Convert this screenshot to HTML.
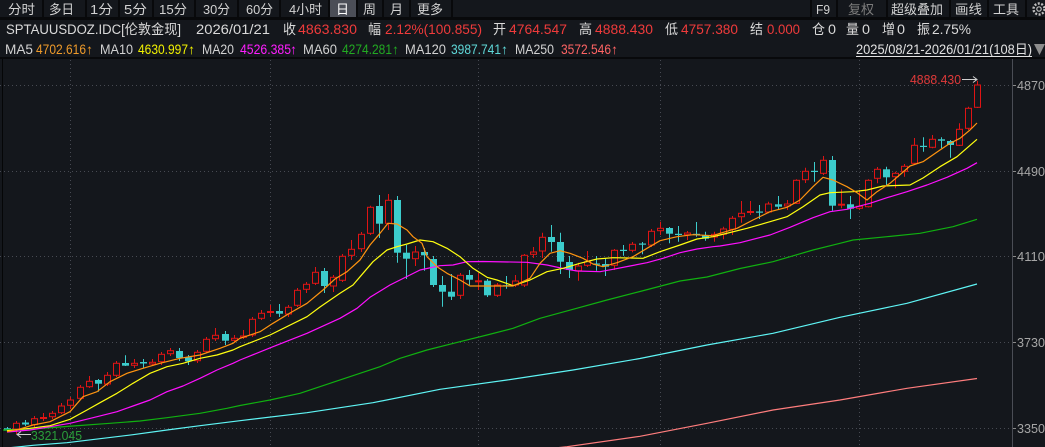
<!DOCTYPE html>
<html><head><meta charset="utf-8"><style>
html,body{margin:0;padding:0;background:#14171c;overflow:hidden;}
svg{display:block;}
text{font-family:"Liberation Sans","Noto Sans CJK SC",sans-serif;}
</style></head><body>
<svg width="1045" height="447" viewBox="0 0 1045 447" xmlns="http://www.w3.org/2000/svg">
<rect x="0" y="0" width="1045" height="447" fill="#14171c"/>
<!-- toolbar -->
<rect x="330" y="0" width="26" height="17" fill="#4b4e57"/>
<rect x="0" y="17" width="1045" height="3" fill="#08090b"/>
<g fill="#08090b">
<rect x="42" y="0" width="2" height="18"/><rect x="85" y="0" width="2" height="18"/><rect x="118" y="0" width="2" height="18"/>
<rect x="152" y="0" width="2" height="18"/><rect x="194" y="0" width="2" height="18"/><rect x="237" y="0" width="2" height="18"/>
<rect x="279" y="0" width="2" height="18"/><rect x="328" y="0" width="2" height="18"/><rect x="356" y="0" width="2" height="18"/>
<rect x="382" y="0" width="2" height="18"/><rect x="409" y="0" width="2" height="18"/><rect x="451" y="0" width="2" height="18"/>
<rect x="810" y="0" width="2" height="18"/><rect x="836" y="0" width="2" height="18"/><rect x="886" y="0" width="2" height="18"/>
<rect x="949" y="0" width="2" height="18"/><rect x="987" y="0" width="2" height="18"/><rect x="1025" y="0" width="2" height="18"/>
</g>
<g font-size="13" fill="#d2d2d2" lengthAdjust="spacingAndGlyphs">
<text x="8" y="14" textLength="27" lengthAdjust="spacingAndGlyphs">分时</text>
<text x="49" y="14" textLength="25" lengthAdjust="spacingAndGlyphs">多日</text>
<text x="90" y="14" textLength="23" lengthAdjust="spacingAndGlyphs">1分</text>
<text x="124" y="14" textLength="23" lengthAdjust="spacingAndGlyphs">5分</text>
<text x="159" y="14" textLength="28" lengthAdjust="spacingAndGlyphs">15分</text>
<text x="203" y="14" textLength="27" lengthAdjust="spacingAndGlyphs">30分</text>
<text x="246" y="14" textLength="27" lengthAdjust="spacingAndGlyphs">60分</text>
<text x="289" y="14" textLength="33" lengthAdjust="spacingAndGlyphs">4小时</text>
<text x="336" y="14" textLength="13" lengthAdjust="spacingAndGlyphs" fill="#ffffff">日</text>
<text x="363" y="14" textLength="13" lengthAdjust="spacingAndGlyphs">周</text>
<text x="390" y="14" textLength="13" lengthAdjust="spacingAndGlyphs">月</text>
<text x="417" y="14" textLength="26" lengthAdjust="spacingAndGlyphs">更多</text>
<text x="816" y="14" textLength="14" lengthAdjust="spacingAndGlyphs">F9</text>
<text x="848" y="14" textLength="26" lengthAdjust="spacingAndGlyphs" fill="#7c7c7c">复权</text>
<text x="891" y="14" textLength="52" lengthAdjust="spacingAndGlyphs">超级叠加</text>
<text x="955" y="14" textLength="27" lengthAdjust="spacingAndGlyphs">画线</text>
<text x="993" y="14" textLength="26" lengthAdjust="spacingAndGlyphs">工具</text>
</g>
<circle cx="1039" cy="9" r="5.5" fill="none" stroke="#bdbdbd" stroke-width="2.4" stroke-dasharray="2 1.5"/>
<circle cx="1039" cy="9" r="2.2" fill="none" stroke="#bdbdbd" stroke-width="1.2"/>
<!-- row 2 -->
<g font-size="13.5">
<text x="6" y="34" textLength="175" lengthAdjust="spacingAndGlyphs" fill="#dadada">SPTAUUSDOZ.IDC[伦敦金现]</text>
<text x="196" y="34" textLength="74" lengthAdjust="spacingAndGlyphs" fill="#dadada">2026/01/21</text>
<text x="283" y="34" textLength="13" lengthAdjust="spacingAndGlyphs" fill="#dadada">收</text>
<text x="298" y="34" textLength="59" lengthAdjust="spacingAndGlyphs" fill="#ef3b3b">4863.830</text>
<text x="368" y="34" textLength="13" lengthAdjust="spacingAndGlyphs" fill="#dadada">幅</text>
<text x="385" y="34" textLength="97" lengthAdjust="spacingAndGlyphs" fill="#ef3b3b">2.12%(100.855)</text>
<text x="493" y="34" textLength="13" lengthAdjust="spacingAndGlyphs" fill="#dadada">开</text>
<text x="509" y="34" textLength="58" lengthAdjust="spacingAndGlyphs" fill="#ef3b3b">4764.547</text>
<text x="579" y="34" textLength="13" lengthAdjust="spacingAndGlyphs" fill="#dadada">高</text>
<text x="595" y="34" textLength="58" lengthAdjust="spacingAndGlyphs" fill="#ef3b3b">4888.430</text>
<text x="665" y="34" textLength="13" lengthAdjust="spacingAndGlyphs" fill="#dadada">低</text>
<text x="681" y="34" textLength="57" lengthAdjust="spacingAndGlyphs" fill="#ef3b3b">4757.380</text>
<text x="750" y="34" textLength="13" lengthAdjust="spacingAndGlyphs" fill="#dadada">结</text>
<text x="767" y="34" textLength="33" lengthAdjust="spacingAndGlyphs" fill="#ef3b3b">0.000</text>
<text x="812" y="34" textLength="13" lengthAdjust="spacingAndGlyphs" fill="#dadada">仓</text>
<text x="828" y="34" textLength="8" lengthAdjust="spacingAndGlyphs" fill="#dadada">0</text>
<text x="846" y="34" textLength="13" lengthAdjust="spacingAndGlyphs" fill="#dadada">量</text>
<text x="862" y="34" textLength="8" lengthAdjust="spacingAndGlyphs" fill="#dadada">0</text>
<text x="882" y="34" textLength="13" lengthAdjust="spacingAndGlyphs" fill="#dadada">增</text>
<text x="897" y="34" textLength="8" lengthAdjust="spacingAndGlyphs" fill="#dadada">0</text>
<text x="917" y="34" textLength="13" lengthAdjust="spacingAndGlyphs" fill="#dadada">振</text>
<text x="932" y="34" textLength="39" lengthAdjust="spacingAndGlyphs" fill="#dadada">2.75%</text>
</g>
<!-- row 3 -->
<g font-size="13.5">
<text x="5" y="54" textLength="28" lengthAdjust="spacingAndGlyphs" fill="#d2d2d2">MA5</text>
<text x="36" y="54" textLength="50" lengthAdjust="spacingAndGlyphs" fill="#ee9a2a">4702.616</text>
<text x="86" y="54" textLength="7" lengthAdjust="spacingAndGlyphs" fill="#ee9a2a">↑</text>
<text x="100" y="54" textLength="33" lengthAdjust="spacingAndGlyphs" fill="#d2d2d2">MA10</text>
<text x="138" y="54" textLength="50" lengthAdjust="spacingAndGlyphs" fill="#f2f200">4630.997</text>
<text x="188" y="54" textLength="7" lengthAdjust="spacingAndGlyphs" fill="#f2f200">↑</text>
<text x="202" y="54" textLength="32" lengthAdjust="spacingAndGlyphs" fill="#d2d2d2">MA20</text>
<text x="240" y="54" textLength="51" lengthAdjust="spacingAndGlyphs" fill="#ff1eff">4526.385</text>
<text x="290" y="54" textLength="7" lengthAdjust="spacingAndGlyphs" fill="#ff1eff">↑</text>
<text x="303" y="54" textLength="34" lengthAdjust="spacingAndGlyphs" fill="#d2d2d2">MA60</text>
<text x="342" y="54" textLength="50" lengthAdjust="spacingAndGlyphs" fill="#22aa22">4274.281</text>
<text x="392" y="54" textLength="7" lengthAdjust="spacingAndGlyphs" fill="#22aa22">↑</text>
<text x="405" y="54" textLength="41" lengthAdjust="spacingAndGlyphs" fill="#d2d2d2">MA120</text>
<text x="451" y="54" textLength="50" lengthAdjust="spacingAndGlyphs" fill="#5fd9d9">3987.741</text>
<text x="501" y="54" textLength="7" lengthAdjust="spacingAndGlyphs" fill="#5fd9d9">↑</text>
<text x="515" y="54" textLength="39" lengthAdjust="spacingAndGlyphs" fill="#d2d2d2">MA250</text>
<text x="561" y="54" textLength="50" lengthAdjust="spacingAndGlyphs" fill="#ff6464">3572.546</text>
<text x="611" y="54" textLength="7" lengthAdjust="spacingAndGlyphs" fill="#ff6464">↑</text>
<text x="856" y="54" textLength="176" lengthAdjust="spacingAndGlyphs" fill="#e2e2e2">2025/08/21-2026/01/21(108日)</text>
</g>
<line x1="856" y1="56.5" x2="1032" y2="56.5" stroke="#e2e2e2" stroke-width="1"/>
<polygon points="1034,44 1045,44 1039.5,55" fill="#8c8c8c"/>
<rect x="0" y="57" width="1045" height="2" fill="#08090b"/>
<!-- grid -->
<g stroke="#474a52" stroke-width="1" stroke-dasharray="1 3">
<line x1="0" y1="85.5" x2="1012" y2="85.5"/>
<line x1="0" y1="171.5" x2="1012" y2="171.5"/>
<line x1="0" y1="256.5" x2="1012" y2="256.5"/>
<line x1="0" y1="342.5" x2="1012" y2="342.5"/>
<line x1="0" y1="428.5" x2="1012" y2="428.5"/>
<line x1="70.5" y1="60" x2="70.5" y2="447"/>
<line x1="270.5" y1="60" x2="270.5" y2="447"/>
<line x1="478.5" y1="60" x2="478.5" y2="447"/>
<line x1="660.5" y1="60" x2="660.5" y2="447"/>
<line x1="859.5" y1="60" x2="859.5" y2="447"/>
</g>
<line x1="2.5" y1="59" x2="2.5" y2="447" stroke="#050607" stroke-width="1"/>
<line x1="1012.5" y1="59" x2="1012.5" y2="447" stroke="#4a4d55" stroke-width="1"/>
<g stroke="#8a8a8a" stroke-width="1">
<line x1="1013" y1="85.5" x2="1016" y2="85.5"/><line x1="1013" y1="171.5" x2="1016" y2="171.5"/>
<line x1="1013" y1="256.5" x2="1016" y2="256.5"/><line x1="1013" y1="342.5" x2="1016" y2="342.5"/>
<line x1="1013" y1="428.5" x2="1016" y2="428.5"/>
</g>
<g font-size="13" fill="#a6a6a6">
<text x="1017" y="90" textLength="28" lengthAdjust="spacingAndGlyphs">4870</text>
<text x="1017" y="176" textLength="28" lengthAdjust="spacingAndGlyphs">4490</text>
<text x="1017" y="261" textLength="28" lengthAdjust="spacingAndGlyphs">4110</text>
<text x="1017" y="347" textLength="28" lengthAdjust="spacingAndGlyphs">3730</text>
<text x="1017" y="433" textLength="28" lengthAdjust="spacingAndGlyphs">3350</text>
</g>
<!-- wicks -->
<path stroke="#e01414" stroke-width="1" fill="none" d="M16.5 421V434M34.5 416V428M43.5 413V421M52.5 411V419M61.5 403V414M70.5 397V409M80.5 385V400M89.5 376V388M107.5 372V386M116.5 361V377M134.5 359V368M152.5 359V365M161.5 352V365M170.5 348V356M197.5 350V363M206.5 337V353M215.5 328V341M234.5 335V342M243.5 330V339M252.5 317V337M261.5 310V320M270.5 305V317M288.5 305V317M297.5 288V307M306.5 282V293M315.5 267V285M333.5 275V292M342.5 254V282M351.5 240V260M361.5 232V252M370.5 205.7V235M388.5 194V230M415.5 246V266M460.5 273V299M478.5 273V290M497.5 283V297M515.5 275V287M524.5 254V287M533.5 247V258M542.5 232.7V258M578.5 262.7V280.7M587.5 251V267M614.5 249V270M632.5 242V252.3M651.5 229V247M660.5 221.7V235M687.5 231V240M714.5 231.7V241.7M723.5 226.7V239.3M732.5 216V235M741.5 201V222.7M750.5 201V215M768.5 201.7V213.3M787.5 200V210M796.5 179.3V204M805.5 167.7V183M823.5 156V175M841.5 189.3V208.3M859.5 190V210M868.5 179.3V207.5M877.5 167V183.3M895.5 171.7V188.3M904.5 164V176.7M914.5 138V165M932.5 135V148.3M959.5 123.3V146M968.5 106.7V130M977.5 80.7V108"/>
<path stroke="#3ccccc" stroke-width="1" fill="none" d="M7.5 427V432M25.5 420V426M98.5 379V391.7M125.5 355.3V366M143.5 359V368M179.5 348V361M188.5 355V365M225.5 331V345M279.5 304V317M324.5 268V293M379.5 195V238M397.5 196V262.7M406.5 245V279M424.5 248V270.7M433.5 256V287M442.5 276V306.7M451.5 274V300M469.5 270V285M487.5 279V297M506.5 276V288.7M551.5 225V251.7M560.5 232.7V274M569.5 256V278M596.5 256V270.7M605.5 258V276M623.5 245V255.7M642.5 242V254.3M669.5 227V243.3M678.5 226V241.7M696.5 222V236.7M705.5 231.7V240.7M759.5 205V219M778.5 196V210M814.5 162V181.7M832.5 156V210.7M850.5 196V219M886.5 166.7V185M923.5 137.3V151.7M941.5 137.3V148.3M950.5 140V157.7"/>
<!-- red bodies -->
<g stroke="#e01414" stroke-width="1" fill="#14171c">
<rect x="13.5" y="423.3" width="6" height="5.7"/><rect x="31.5" y="418.7" width="6" height="6"/><rect x="40.5" y="417.5" width="6" height="1"/><rect x="49.5" y="413.3" width="6" height="3.4"/>
<rect x="58.5" y="406" width="6" height="6.7"/><rect x="67.5" y="400" width="6" height="5.3"/><rect x="77.5" y="387.3" width="6" height="11"/><rect x="86.5" y="381.3" width="6" height="5.4"/>
<rect x="104.5" y="375.3" width="6" height="8.7"/><rect x="113.5" y="363.3" width="6" height="12"/><rect x="131.5" y="363.3" width="6" height="2"/><rect x="149.5" y="362.3" width="6" height="1.7"/>
<rect x="158.5" y="354.3" width="6" height="7.4"/><rect x="167.5" y="350.7" width="6" height="3"/><rect x="194.5" y="352.3" width="6" height="8.4"/><rect x="203.5" y="339.3" width="6" height="12"/>
<rect x="212.5" y="335.3" width="6" height="3.4"/><rect x="231.5" y="338.3" width="6" height="2"/><rect x="240.5" y="336" width="6" height="1.3"/><rect x="249.5" y="319.3" width="6" height="15.7"/>
<rect x="258.5" y="313.3" width="6" height="5"/><rect x="267.5" y="311.5" width="6" height="1"/><rect x="285.5" y="307.3" width="6" height="6.7"/><rect x="294.5" y="290.3" width="6" height="15"/>
<rect x="303.5" y="284.3" width="6" height="5"/><rect x="312.5" y="272.3" width="6" height="11"/><rect x="330.5" y="277.3" width="6" height="8.7"/><rect x="339.5" y="256.3" width="6" height="24"/>
<rect x="348.5" y="249.3" width="6" height="6"/><rect x="358.5" y="234.3" width="6" height="14.4"/><rect x="367.5" y="207.3" width="6" height="26"/><rect x="385.5" y="200.3" width="6" height="23"/>
<rect x="412.5" y="252" width="6" height="6.7"/><rect x="457.5" y="275.3" width="6" height="20"/><rect x="475.5" y="280.8" width="6" height="1"/><rect x="494.5" y="285" width="6" height="10.3"/>
<rect x="512.5" y="281" width="6" height="4"/><rect x="521.5" y="255.3" width="6" height="29.7"/><rect x="530.5" y="252" width="6" height="2.3"/><rect x="539.5" y="237.3" width="6" height="13.7"/>
<rect x="575.5" y="266" width="6" height="4.7"/><rect x="584.5" y="261.7" width="6" height="3.6"/><rect x="611.5" y="250.3" width="6" height="15"/><rect x="629.5" y="244.3" width="6" height="6"/>
<rect x="648.5" y="231.3" width="6" height="13.7"/><rect x="657.5" y="228.3" width="6" height="2.4"/><rect x="684.5" y="233" width="6" height="1.7"/><rect x="711.5" y="234.3" width="6" height="2.7"/>
<rect x="720.5" y="229" width="6" height="5.3"/><rect x="729.5" y="218.3" width="6" height="11"/><rect x="738.5" y="213.3" width="6" height="3.4"/><rect x="747.5" y="211.5" width="6" height="1"/>
<rect x="765.5" y="204" width="6" height="8"/><rect x="784.5" y="204" width="6" height="2"/><rect x="793.5" y="180.3" width="6" height="23"/><rect x="802.5" y="171.3" width="6" height="8.4"/>
<rect x="820.5" y="160.3" width="6" height="13"/><rect x="838.5" y="204.2" width="6" height="1"/><rect x="856.5" y="206.3" width="6" height="2"/><rect x="865.5" y="180.3" width="6" height="26.4"/>
<rect x="874.5" y="169.3" width="6" height="9"/><rect x="892.5" y="173.3" width="6" height="3.4"/><rect x="901.5" y="166.3" width="6" height="5"/><rect x="911.5" y="145.3" width="6" height="18"/>
<rect x="929.5" y="139.3" width="6" height="8"/><rect x="956.5" y="129.3" width="6" height="16"/><rect x="965.5" y="108.3" width="6" height="20"/><rect x="974.5" y="85" width="6" height="22.3"/>
</g>
<!-- cyan bodies -->
<g fill="#3ccccc">
<rect x="4" y="428.3" width="7" height="2.4"/><rect x="22" y="422.5" width="7" height="2"/><rect x="95" y="380" width="7" height="3.7"/><rect x="122" y="363" width="7" height="2.7"/>
<rect x="140" y="362" width="7" height="1.5"/><rect x="176" y="351" width="7" height="7"/><rect x="185" y="357.3" width="7" height="4"/><rect x="222" y="334" width="7" height="6.7"/>
<rect x="276" y="311" width="7" height="2.7"/><rect x="321" y="271" width="7" height="15"/><rect x="376" y="206" width="7" height="17.7"/><rect x="394" y="200" width="7" height="52.7"/>
<rect x="403" y="252.7" width="7" height="6"/><rect x="421" y="252" width="7" height="3.3"/><rect x="430" y="259" width="7" height="26"/><rect x="439" y="285" width="7" height="6.7"/>
<rect x="448" y="291.7" width="7" height="5"/><rect x="466" y="275" width="7" height="4.7"/><rect x="484" y="280.7" width="7" height="14.6"/><rect x="503" y="285.2" width="7" height="1.2"/>
<rect x="548" y="237" width="7" height="5"/><rect x="557" y="242" width="7" height="19.7"/><rect x="566" y="262" width="7" height="8"/><rect x="593" y="263.5" width="7" height="1.2"/>
<rect x="602" y="264" width="7" height="2.7"/><rect x="620" y="249.8" width="7" height="1.2"/><rect x="639" y="243.5" width="7" height="1.2"/><rect x="666" y="228" width="7" height="5.7"/>
<rect x="675" y="233.8" width="7" height="1.2"/><rect x="693" y="233.8" width="7" height="1.2"/><rect x="702" y="235.3" width="7" height="3.4"/><rect x="756" y="211.5" width="7" height="1.2"/>
<rect x="775" y="204.3" width="7" height="2.4"/><rect x="811" y="170.8" width="7" height="1.2"/><rect x="829" y="160" width="7" height="45.7"/><rect x="847" y="204.3" width="7" height="4.4"/>
<rect x="883" y="169.3" width="7" height="8"/><rect x="920" y="145.8" width="7" height="1.2"/><rect x="938" y="139.3" width="7" height="1.4"/><rect x="947" y="141" width="7" height="4"/>
</g>
<!-- MA lines -->
<g fill="none" stroke-width="1.2" stroke-linejoin="round">
<polyline stroke="#ff7d7d" points="555,448 567,446.7 640,436.3 707,423.3 773,410 840,400 907,388.3 977,378.5"/>
<polyline stroke="#5ff5f5" points="7,448 20,446.7 33,445.3 67,442.7 100,438.7 133,434.7 167,430 200,425.7 240,420.7 307,412.7 373,402.7 440,389.3 507,380 573,370 640,358.5 707,345 773,333.3 840,317.3 907,303.3 977,284"/>
<polyline stroke="#10b010" points="3,430 33,429 73,426 110,423.3 140,421 167,417.7 200,413.3 227,408.3 240,405.5 270,400 300,393.3 330,383.3 360,373.3 380,366.7 400,358.3 427,350 460,341.7 487,335 513,328.3 540,318.3 573,309.3 607,300 640,291.5 680,281 707,277 740,268.5 773,261.7 813,250 840,243.3 853,240 887,236.7 920,233.3 953,226.7 977,219.3"/>
<polyline stroke="#ff10ff" points="7,432 30,430 50,426.7 70,423.3 93,417.7 117,411.7 133,406 150,400 167,391.7 183,386 200,378.3 217,370 233,363.3 240,360 273,346.7 307,333.3 340,318.3 357,308.3 370,297.3 390,285 420,270 440,265.7 453,265 467,261.7 483,261.5 527,262.3 547,265 567,269.3 577,271 600,271.7 613,269.3 630,266 647,262.7 663,258.3 680,252.7 697,249 713,246.7 720,246 740,242.7 770,235 790,227.3 813,217.7 830,211.7 847,209.3 870,203.3 887,197.7 907,191.7 927,185 947,177.3 967,168.3 977,162.7"/>
<polyline stroke="#ffff10" points="7,430.7 30,428.3 50,425.7 70,419.3 87,410 100,402.7 117,393.3 133,383.3 150,373.3 167,366.7 183,363.3 200,358.3 217,355 233,350 240,346.7 270,335 307,316.7 320,307 340,293.3 353,285 363,273.3 373,261.7 387,250 397,246.7 407,244 420,240 433,241.7 447,248.3 460,256.7 473,268.3 487,277.3 497,280 513,285.7 530,280 547,271.7 563,268.3 580,263.3 597,259 613,257.7 643,258.3 660,251.7 680,245 697,239 713,236.7 720,235 747,228.3 770,221.7 787,216.7 803,206.7 820,195 830,192.7 853,191.7 867,190 883,186 910,185 923,178 940,166.7 957,156.7 977,139.3"/>
<polyline stroke="#ff9410" points="7,431.7 20,429 33,425 50,421.7 70,411.7 83,396.7 97,391.7 110,381.7 127,373.3 143,368.3 160,363.3 180,358.3 200,355 220,348.3 233,343.3 240,338.3 260,331.7 273,323.3 290,313 307,303.3 323,290 335,279 347,271.7 360,260 370,245 380,233.3 388,223.3 397,224 407,230 413,236.7 422,243.3 427,256.7 437,266.7 447,273.3 460,280 470,286 490,286 513,286 530,278.3 540,263.3 550,253.3 560,250.7 570,253.3 583,258.3 593,264 603,266.7 617,262.7 633,256.7 647,248.3 660,240.7 677,236.7 693,234.7 713,235.7 720,233.3 737,228.3 753,220 770,211.7 787,207.3 800,200 813,186.7 823,177.3 833,180 847,186.7 857,192.7 867,200 877,191.7 890,183.3 910,166 923,161.7 940,150 950,143.3 960,138.3 970,130 977,123"/>
</g>
<!-- annotations -->
<text x="910" y="84" font-size="12.5" fill="#e03a3a" textLength="51" lengthAdjust="spacingAndGlyphs">4888.430</text>
<g stroke="#cfcfcf" stroke-width="1" fill="none">
<line x1="962" y1="79.5" x2="977" y2="79.5"/>
<polyline points="973,76.5 977,79.5 973,82.5"/>
<line x1="17" y1="434.5" x2="31" y2="434.5"/>
<polyline points="21,431.5 17,434.5 21,437.5"/>
</g>
<text x="31" y="440" font-size="12.5" fill="#2a9e3a" textLength="51" lengthAdjust="spacingAndGlyphs">3321.045</text>
</svg>
</body></html>
